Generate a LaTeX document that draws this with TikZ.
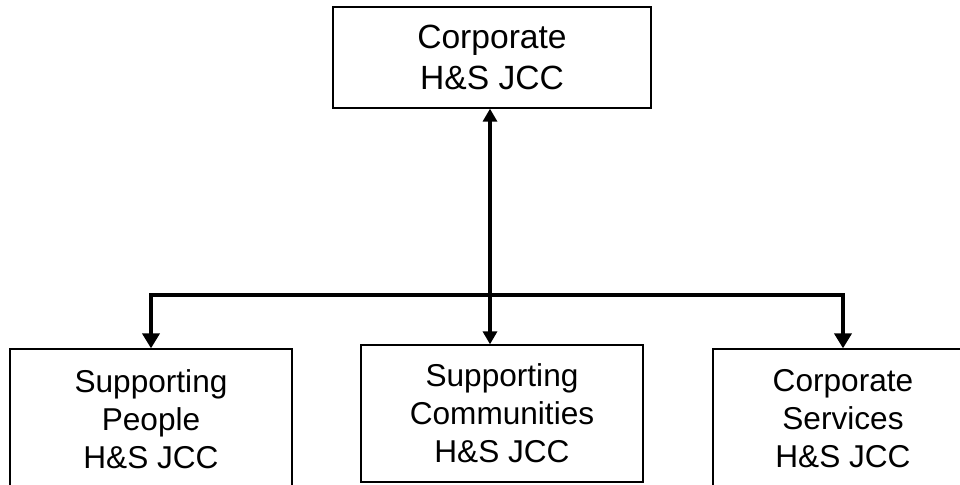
\documentclass[tikz,border=0pt]{standalone}
\usepackage{fontspec}
\setmainfont{Liberation Sans}
\usetikzlibrary{arrows.meta}

\newcommand{\topfont}{\fontsize{16.8}{20.5}\selectfont}
\newcommand{\boxfont}{\fontsize{15.8}{19}\selectfont}

\begin{document}
\begin{tikzpicture}[x=0.5pt, y=-0.5pt,
    box/.style={draw, line width=0.65pt, align=center, font=\boxfont, inner sep=0pt},
    link/.style={line width=2.2pt, -{Triangle[width=8.5pt, length=7.5pt]}},
    stem/.style={line width=1.6pt, -{Triangle[width=7pt, length=6.5pt]}}]
   \useasboundingbox (0,0) rectangle (960,484);
   \clip (0,0) rectangle (960,484);

   \node[box, font=\topfont, minimum width=159pt, minimum height=50.5pt] (cjc) at (492,57.5) {Corporate\\H\&S JCC};
   \node[box, minimum width=141pt, minimum height=68.5pt] (sc)  at (502,413.5) {Supporting\\Communities\\H\&S JCC};
   \node[box, minimum width=141pt, minimum height=70pt]   (sp)  at (151,419) {Supporting\\People\\H\&S JCC};
   \node[box, minimum width=130pt, minimum height=70pt]   (cs)  at (843,419) {Corporate\\Services\\H\&S JCC};

   \coordinate (hub) at (490,295);

    \draw[link] (hub) -| (sp.north);
    \draw[link] (hub) -| (cs.north);
    \draw[stem] (hub) -- (hub |- cjc.south);
    \draw[stem] (hub) -- (hub |- sc.north);
\end{tikzpicture}
\end{document}
